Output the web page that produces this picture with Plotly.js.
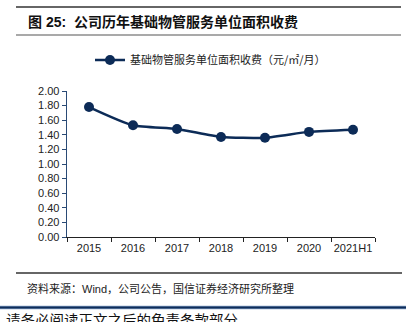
<!DOCTYPE html>
<html><head><meta charset="utf-8">
<script src="https://cdn.plot.ly/plotly-3.0.1.min.js"></script>
<style>html,body{margin:0;padding:0;background:#fff;}#chart{width:406px;height:322px;}</style>
</head><body><div id="chart"></div>
<script>
const categories = ['2015','2016','2017','2018','2019','2020','2021H1'];
const feeValues = [1.78, 1.53, 1.48, 1.37, 1.36, 1.44, 1.47];
const seriesName = '基础物管服务单位面积收费（元/㎡/月）';
const yTickVals = [0,0.2,0.4,0.6,0.8,1.0,1.2,1.4,1.6,1.8,2.0];
const yTickText = ['0.00','0.20','0.40','0.60','0.80','1.00','1.20','1.40','1.60','1.80','2.00'];
const titleText = '图 25:  公司历年基础物管服务单位面积收费';
const sourceText = '资料来源：Wind，公司公告，国信证券经济研究所整理';
const footerText = '请务必阅读正文之后的免责条款部分';

const L = 67, R = 375, T = 91, B = 237;
const px = x => (x - L) / (R - L);
const py = y => (B - y) / (B - T);
const navy = '#0c2b57';
const font = 'Liberation Sans, Arial, Noto Sans CJK SC, sans-serif';

const trace = {
  x: categories, y: feeValues, name: seriesName, type: 'scatter', mode: 'lines+markers',
  line: {color: navy, width: 2.5, shape: 'spline', smoothing: 0.6},
  marker: {color: navy, size: 10}
};
const layout = {
  width: 406, height: 322,
  margin: {l: L, r: 406 - R, t: T, b: 322 - B},
  paper_bgcolor: '#fff', plot_bgcolor: '#fff',
  showlegend: true,
  legend: {orientation: 'h', x: px(90), y: py(60), xanchor: 'left', yanchor: 'middle',
    font: {family: 'Noto Sans CJK SC, sans-serif', size: 11, color: '#222'}, bgcolor: 'rgba(0,0,0,0)'},
  xaxis: {type: 'category', range: [-0.5, 6.5], showgrid: false, zeroline: false, tickangle: 0,
    showline: true, linecolor: '#222', linewidth: 1.3, ticks: 'outside', tickson: 'boundaries',
    ticklen: 4, tickcolor: '#222', tickfont: {family: font, size: 11, color: '#222'}},
  yaxis: {range: [0, 2], tickvals: yTickVals, ticktext: yTickText, showgrid: false, zeroline: false,
    showline: true, linecolor: '#2a4a75', linewidth: 1.3, ticks: 'outside', ticklen: 4, tickcolor: '#2a4a75',
    tickfont: {family: font, size: 11, color: '#222'}},
  shapes: [
    {type: 'line', xref: 'paper', yref: 'paper', x0: px(16), x1: px(401), y0: py(7), y1: py(7), line: {color: '#333', width: 1.5}},
    {type: 'line', xref: 'paper', yref: 'paper', x0: px(16), x1: px(401), y0: py(35), y1: py(35), line: {color: '#555', width: 1.2}},
    {type: 'line', xref: 'paper', yref: 'paper', x0: px(16), x1: px(402), y0: py(273), y1: py(273), line: {color: '#333', width: 1.5}},
    {type: 'line', xref: 'paper', yref: 'paper', x0: px(0), x1: px(406), y0: py(307.5), y1: py(307.5), line: {color: '#7f9cc2', width: 3.5}},
    {type: 'line', xref: 'paper', yref: 'paper', x0: px(0), x1: px(406), y0: py(307.5), y1: py(307.5), line: {color: '#0e2c5a', width: 1.8}}
  ],
  annotations: [
    {text: titleText, xref: 'paper', yref: 'paper', x: px(26), y: py(22), xanchor: 'left', yanchor: 'middle', showarrow: false,
      font: {family: 'Liberation Sans, Noto Sans CJK SC, sans-serif', size: 14, color: '#111', weight: 'bold'}},
    {text: sourceText, xref: 'paper', yref: 'paper', x: px(25), y: py(288), xanchor: 'left', yanchor: 'middle', showarrow: false,
      font: {family: 'Liberation Sans, Noto Sans CJK SC, sans-serif', size: 11, color: '#222'}},
    {text: footerText, xref: 'paper', yref: 'paper', x: px(4), y: py(319), xanchor: 'left', yanchor: 'middle', showarrow: false,
      font: {family: 'Noto Sans CJK SC, sans-serif', size: 14.5, color: '#111'}}
  ]
};
Plotly.newPlot('chart', [trace], layout, {displayModeBar: false, staticPlot: true});
</script></body></html>
